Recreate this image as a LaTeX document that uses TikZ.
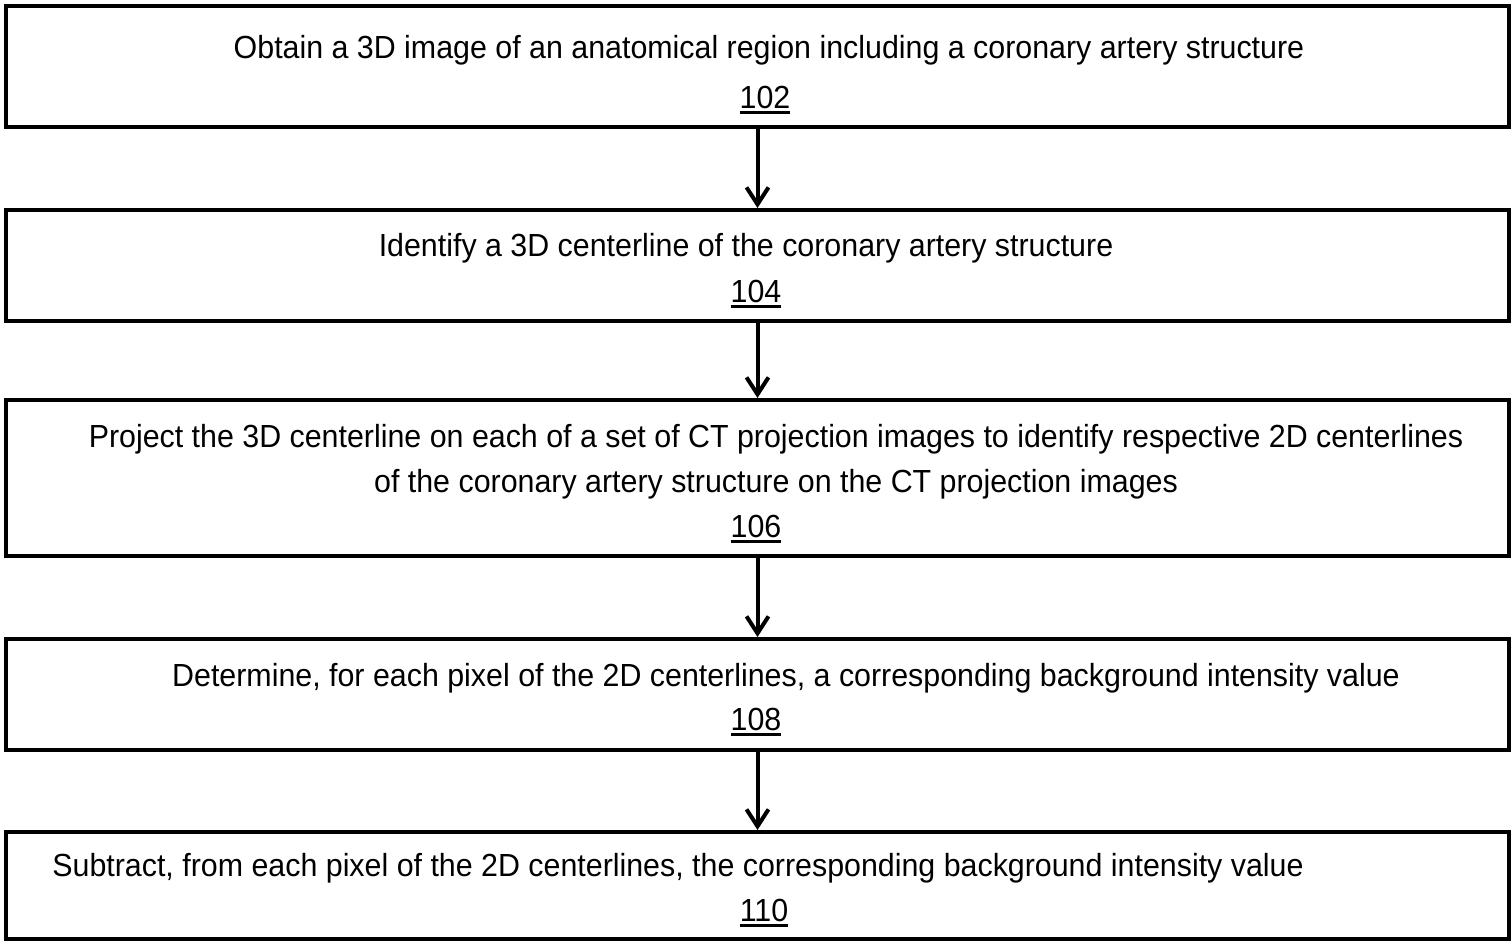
\documentclass[tikz,border=0pt]{standalone}
\usepackage{fontspec}
\setmainfont[FakeStretch=0.95]{Liberation Sans}
\usepackage{tikz}
\usetikzlibrary{arrows.meta}

\newcommand{\refnum}[1]{\vtop{\hbox{#1}\kern1.6pt\hrule height 1.4pt}}

\tikzset{
	stepbox/.style={draw, line width=0.08cm, minimum width=30.06cm, inner sep=0pt},
	steptext/.style={anchor=base, align=center, inner sep=0pt, font=\fontsize{18.2}{25.4}\selectfont},
	flow/.style={line width=0.08cm, -{Straight Barb[length=0.34cm,width=0.44cm]}}
}

\begin{document}
\begin{tikzpicture}[x=0.02cm, y=-0.02cm]
	\useasboundingbox (0,0) rectangle (1512,948);
	% boxes
	\node[stepbox, minimum height=2.42cm] (s102) at (757.5,66.5) {};
	\node[stepbox, minimum height=2.22cm] (s104) at (757.5,265.5) {};
	\node[stepbox, minimum height=3.12cm] (s106) at (757.5,478) {};
	\node[stepbox, minimum height=2.22cm] (s108) at (757.5,694.5) {};
	\node[stepbox, minimum height=2.14cm] (s110) at (757.5,885.5) {};
	% texts
	\node[steptext] (t102) at (769,58) {Obtain a 3D image of an anatomical region including a coronary artery structure};
	\node[steptext] (n102) at (765,108) {\refnum{102}};
	\node[steptext] (t104) at (746,256) {Identify a 3D centerline of the coronary artery structure};
	\node[steptext] (n104) at (756,302) {\refnum{104}};
	\node[steptext] (t106) at (776,492) {Project the 3D centerline on each of a set of CT projection images to identify respective 2D centerlines\\of the coronary artery structure on the CT projection images};
	\node[steptext] (n106) at (756,537) {\refnum{106}};
	\node[steptext] (t108) at (786,686) {Determine, for each pixel of the 2D centerlines, a corresponding background intensity value};
	\node[steptext] (n108) at (756,730) {\refnum{108}};
	\node[steptext] (t110) at (678,876) {Subtract, from each pixel of the 2D centerlines, the corresponding background intensity value};
	\node[steptext] (n110) at (764,921) {\refnum{110}};
	% arrows
	\draw[flow] (s102) -- (s104);
	\draw[flow] (s104) -- (s106);
	\draw[flow] (s106) -- (s108);
	\draw[flow] (s108) -- (s110);
\end{tikzpicture}
\end{document}
